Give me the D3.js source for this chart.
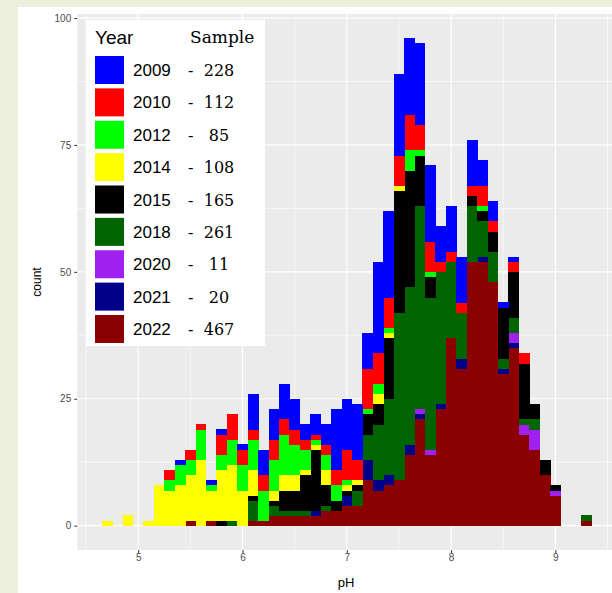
<!DOCTYPE html>
<html>
<head>
<meta charset="utf-8">
<script src="https://cdn.jsdelivr.net/npm/d3@7/dist/d3.min.js"></script>
<style>
  body { margin: 0; background: #edf0dc; }
  svg { display: block; }
</style>
</head>
<body>
<div id="chart"></div>
<script>
// bins of 0.1 pH, centred at 4.7 ... 9.3
const binMids = d3.range(47).map(i => +(4.7 + i * 0.1).toFixed(1));
const years = ["2009", "2010", "2012", "2014", "2015", "2018", "2020", "2021", "2022"];
const samples = [228, 112, 85, 108, 165, 261, 11, 20, 467];
const colors = ["#0000FF", "#FF0000", "#00FF00", "#FFFF00", "#000000", "#006400", "#A020F0", "#00008B", "#8B0000"];
const xTicks = [5, 6, 7, 8, 9];
const yTicks = [0, 25, 50, 75, 100];

const y2009 = [0,0,0,0,0,0,0,1,0,0,1,1,0,1,7,5,6,7,6,3,4,4,12,10,11,7,18,17,16,15,16,15,7,9,9,9,5,4,1,1,0,0,0,0,0,0,0];
const y2010 = [0,0,0,0,0,0,2,0,2,1,0,4,5,3,2,3,4,3,3,2,1,2,3,6,4,8,6,6,6,7,5,6,2,2,2,2,4,2,0,2,2,0,0,0,0,0,0];
const y2012 = [0,0,0,0,0,0,2,4,3,6,1,3,5,5,6,6,6,8,6,4,1,3,3,1,0,1,2,1,0,4,1,1,0,0,0,0,1,0,0,0,0,0,0,0,0,0,0];
const y2014 = [1,0,2,0,1,8,7,8,9,13,6,10,11,7,5,0,2,3,3,1,1,3,0,1,1,0,2,1,1,0,0,0,0,0,0,0,0,0,0,0,0,0,0,0,0,0,0];
const y2015 = [0,0,0,0,0,0,0,0,0,0,0,1,0,0,1,0,1,4,4,7,12,4,2,1,1,4,4,12,24,23,10,4,0,0,0,2,2,4,10,9,11,3,3,1,0,0,0];
const y2018 = [0,0,0,0,0,0,0,0,0,0,0,0,1,0,4,0,2,1,1,1,0,1,0,0,3,5,11,15,33,31,40,30,26,15,9,11,7,6,2,3,1,2,0,0,0,0,1];
const y2020 = [0,0,0,0,0,0,0,0,0,0,0,0,0,0,0,0,0,0,0,0,0,0,0,0,0,0,0,0,0,0,1,1,0,0,0,0,0,0,0,2,2,4,0,1,0,0,0];
const y2021 = [0,0,0,0,0,0,0,0,0,0,0,0,0,0,0,0,0,0,0,0,1,0,0,2,0,4,2,2,0,2,1,0,1,0,2,0,1,0,1,1,0,0,0,0,0,0,0];
const y2022 = [0,0,0,0,0,0,0,0,1,0,1,0,0,0,1,1,2,2,2,2,2,3,3,4,4,9,7,8,9,14,21,14,23,37,31,52,52,48,30,35,18,15,10,6,0,0,1];

const series = [y2009, y2010, y2012, y2014, y2015, y2018, y2020, y2021, y2022];

const rows = binMids.map((m, i) => {
  const r = { mid: m };
  years.forEach((yr, k) => { r[yr] = series[k][i]; });
  return r;
});

const width = 612, height = 593;
const svg = d3.select("#chart").append("svg")
  .attr("width", width)
  .attr("height", height);

// white slide area
svg.append("rect")
  .attr("x", 18).attr("y", 7)
  .attr("width", width - 18).attr("height", height - 7)
  .attr("fill", "#ffffff");

const x = d3.scaleLinear().domain([4.415, 9.585]).range([77.2, 616.4]);
const y = d3.scaleLinear().domain([-4.8, 100.8]).range([550, 14]);

// panel
svg.append("rect")
  .attr("x", x(4.415)).attr("y", y(100.8))
  .attr("width", x(9.585) - x(4.415)).attr("height", y(-4.8) - y(100.8))
  .attr("fill", "#EBEBEB");

const grid = svg.append("g");
const xMinor = d3.range(4.5, 9.6, 1);
const yMinor = [12.5, 37.5, 62.5, 87.5];
grid.selectAll(".xmin").data(xMinor).enter().append("line")
  .attr("x1", d => x(d)).attr("x2", d => x(d))
  .attr("y1", y(100.8)).attr("y2", y(-4.8))
  .attr("stroke", "#fff").attr("stroke-width", 0.6);
grid.selectAll(".ymin").data(yMinor).enter().append("line")
  .attr("x1", x(4.415)).attr("x2", x(9.585))
  .attr("y1", d => y(d)).attr("y2", d => y(d))
  .attr("stroke", "#fff").attr("stroke-width", 0.6);
grid.selectAll(".xmaj").data(xTicks).enter().append("line")
  .attr("x1", d => x(d)).attr("x2", d => x(d))
  .attr("y1", y(100.8)).attr("y2", y(-4.8))
  .attr("stroke", "#fff").attr("stroke-width", 1.2);
grid.selectAll(".ymaj").data(yTicks).enter().append("line")
  .attr("x1", x(4.415)).attr("x2", x(9.585))
  .attr("y1", d => y(d)).attr("y2", d => y(d))
  .attr("stroke", "#fff").attr("stroke-width", 1.2);

// stacked histogram, 2009 on top
const stack = d3.stack().keys(years.slice().reverse());
const layers = stack(rows);
const colorOf = d3.scaleOrdinal().domain(years).range(colors);

svg.append("g").selectAll("g")
  .data(layers)
  .enter().append("g")
  .attr("fill", d => colorOf(d.key))
  .selectAll("rect")
  .data(d => d.filter(s => s[1] > s[0]))
  .enter().append("rect")
  .attr("shape-rendering", "crispEdges")
  .attr("x", d => x(d.data.mid - 0.05))
  .attr("width", d => x(d.data.mid + 0.05) - x(d.data.mid - 0.05) + 0.4)
  .attr("y", d => y(d[1]))
  .attr("height", d => y(d[0]) - y(d[1]) + 0.4);

// axes
const xAxis = svg.append("g")
  .attr("transform", "translate(0," + y(-4.8) + ")")
  .call(d3.axisBottom(x).tickValues(xTicks).tickFormat(d3.format("d")).tickSize(3).tickPadding(1));
const yAxis = svg.append("g")
  .attr("transform", "translate(" + x(4.415) + ",0)")
  .call(d3.axisLeft(y).tickValues(yTicks).tickFormat(d3.format("d")).tickSize(3).tickPadding(3));
[xAxis, yAxis].forEach(a => {
  a.select(".domain").remove();
  a.selectAll(".tick line").attr("stroke", "#333333");
  a.selectAll(".tick text")
    .attr("fill", "#4D4D4D")
    .style("font-family", "Liberation Sans, Arial, sans-serif")
    .style("font-size", "10px");
});

svg.append("text")
  .attr("x", 346).attr("y", 587)
  .attr("text-anchor", "middle")
  .style("font-family", "Liberation Sans, Arial, sans-serif")
  .style("font-size", "13px")
  .text("pH");
svg.append("text")
  .attr("transform", "translate(41,282) rotate(-90)")
  .attr("text-anchor", "middle")
  .style("font-family", "Liberation Sans, Arial, sans-serif")
  .style("font-size", "12px")
  .text("count");

// legend
const lg = svg.append("g");
lg.append("rect")
  .attr("x", 86).attr("y", 20)
  .attr("width", 179).attr("height", 326)
  .attr("fill", "#ffffff");
lg.append("text")
  .attr("x", 95).attr("y", 44)
  .style("font-family", "Liberation Sans, Arial, sans-serif")
  .style("font-size", "19px")
  .text("Year");
lg.append("text")
  .attr("x", 190).attr("y", 43)
  .style("font-family", "DejaVu Serif, Liberation Serif, serif")
  .style("font-size", "17px")
  .text("Sample");

const rowY = d3.scaleLinear().domain([0, 8]).range([70, 329]);
const items = lg.selectAll(".item")
  .data(years)
  .enter().append("g")
  .attr("transform", (d, i) => "translate(0," + rowY(i) + ")");
items.append("rect")
  .attr("x", 95).attr("y", -14)
  .attr("width", 29).attr("height", 28)
  .attr("fill", d => colorOf(d));
items.append("text")
  .attr("x", 133).attr("y", 6)
  .style("font-family", "Liberation Sans, Arial, sans-serif")
  .style("font-size", "17px")
  .text(d => d);
items.append("text")
  .attr("x", 188).attr("y", 6)
  .style("font-family", "DejaVu Serif, Liberation Serif, serif")
  .style("font-size", "16px")
  .text("-");
items.append("text")
  .attr("x", 219).attr("y", 6)
  .attr("text-anchor", "middle")
  .style("font-family", "DejaVu Serif, Liberation Serif, serif")
  .style("font-size", "16px")
  .text((d, i) => samples[i]);
</script>
</body>
</html>
